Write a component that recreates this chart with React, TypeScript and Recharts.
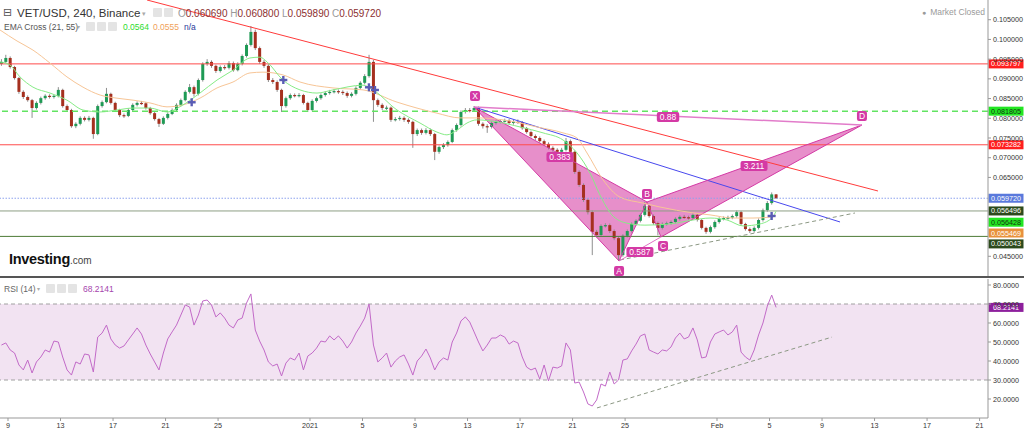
import React from 'react';
import {
  ComposedChart,
  Bar,
  Line,
  Area,
  Scatter,
  XAxis,
  YAxis,
  ReferenceLine,
  ReferenceArea,
} from 'recharts';

const FONT = '"Liberation Sans", Arial, sans-serif';

// 8h candles, day 0 = Dec 9 2020
const START_DAY = -0.5;
const STEP_DAYS = 1 / 3;

// [open, high, low, close]
const candles = [
  [0.0938, 0.095, 0.0933, 0.0943], [0.0943, 0.0961, 0.094, 0.0953], [0.0953, 0.0957, 0.0926, 0.093], [0.093, 0.0933, 0.0898, 0.0902],
  [0.0902, 0.0905, 0.0862, 0.0867], [0.0867, 0.0871, 0.0849, 0.0854], [0.0854, 0.0858, 0.0842, 0.0846], [0.0846, 0.0849, 0.0801, 0.0826],
  [0.0826, 0.0843, 0.0822, 0.0839], [0.0839, 0.0855, 0.0835, 0.0851], [0.0851, 0.0861, 0.0847, 0.0857], [0.0857, 0.0861, 0.085, 0.0854],
  [0.0854, 0.086, 0.085, 0.0857], [0.0857, 0.0879, 0.0853, 0.0872], [0.0872, 0.0875, 0.0827, 0.0831], [0.0831, 0.0835, 0.0816, 0.0821],
  [0.0821, 0.0824, 0.0776, 0.078], [0.078, 0.079, 0.0775, 0.0786], [0.0786, 0.0805, 0.0782, 0.0801], [0.0801, 0.0805, 0.0792, 0.0796],
  [0.0796, 0.0806, 0.0792, 0.0801], [0.0801, 0.0804, 0.0748, 0.076], [0.076, 0.0835, 0.0757, 0.0831], [0.0831, 0.0845, 0.0827, 0.0841],
  [0.0841, 0.0877, 0.0838, 0.0862], [0.0862, 0.0865, 0.0835, 0.0839], [0.0839, 0.0842, 0.0817, 0.0821], [0.0821, 0.0824, 0.0803, 0.0808],
  [0.0808, 0.0812, 0.0801, 0.0806], [0.0806, 0.0825, 0.0803, 0.0821], [0.0821, 0.0838, 0.0818, 0.0834], [0.0834, 0.0843, 0.083, 0.0839],
  [0.0839, 0.0844, 0.0834, 0.0838], [0.0838, 0.0841, 0.0822, 0.0826], [0.0826, 0.0829, 0.0809, 0.0813], [0.0813, 0.0816, 0.0794, 0.0798],
  [0.0798, 0.0801, 0.0778, 0.0786], [0.0786, 0.0805, 0.0783, 0.0801], [0.0801, 0.0815, 0.0797, 0.0811], [0.0811, 0.0825, 0.0808, 0.0821],
  [0.0821, 0.0838, 0.0818, 0.0834], [0.0834, 0.085, 0.083, 0.0846], [0.0846, 0.0871, 0.0843, 0.0867], [0.0867, 0.0887, 0.0863, 0.0879],
  [0.0879, 0.0883, 0.0855, 0.0862], [0.0862, 0.0901, 0.0858, 0.0897], [0.0897, 0.0942, 0.0893, 0.0938], [0.0938, 0.095, 0.0933, 0.0943],
  [0.0943, 0.0947, 0.0928, 0.0933], [0.0933, 0.0936, 0.0915, 0.092], [0.092, 0.0934, 0.0916, 0.093], [0.093, 0.0935, 0.0923, 0.0928],
  [0.0928, 0.0945, 0.0924, 0.094], [0.094, 0.0944, 0.0918, 0.0922], [0.0922, 0.0942, 0.0919, 0.0938], [0.0938, 0.0962, 0.0934, 0.0958],
  [0.0958, 0.099, 0.0954, 0.0986], [0.0986, 0.1034, 0.0982, 0.1019], [0.1019, 0.1025, 0.0973, 0.0978], [0.0978, 0.0982, 0.0938, 0.0943],
  [0.0943, 0.0948, 0.0928, 0.0933], [0.0933, 0.0937, 0.0892, 0.0897], [0.0897, 0.0902, 0.0887, 0.0892], [0.0892, 0.0896, 0.0867, 0.0872],
  [0.0872, 0.0875, 0.0816, 0.0831], [0.0831, 0.0855, 0.0827, 0.0851], [0.0851, 0.0863, 0.0847, 0.0859], [0.0859, 0.0863, 0.0853, 0.0857],
  [0.0857, 0.0864, 0.0853, 0.0859], [0.0859, 0.0862, 0.0835, 0.0839], [0.0839, 0.0842, 0.0816, 0.0821], [0.0821, 0.0848, 0.0818, 0.0844],
  [0.0844, 0.0855, 0.084, 0.0851], [0.0851, 0.0863, 0.0847, 0.0859], [0.0859, 0.0869, 0.0855, 0.0864], [0.0864, 0.0872, 0.086, 0.0867],
  [0.0867, 0.0874, 0.0863, 0.0869], [0.0869, 0.0873, 0.0862, 0.0867], [0.0867, 0.0871, 0.0859, 0.0864], [0.0864, 0.0868, 0.0852, 0.0857],
  [0.0857, 0.0866, 0.0853, 0.0862], [0.0862, 0.0881, 0.0858, 0.0877], [0.0877, 0.0894, 0.0873, 0.089], [0.089, 0.0912, 0.0886, 0.0907],
  [0.0907, 0.0961, 0.0903, 0.0943], [0.0943, 0.0948, 0.0791, 0.0846], [0.0846, 0.085, 0.0829, 0.0834], [0.0834, 0.0838, 0.0821, 0.0826],
  [0.0826, 0.0832, 0.0821, 0.0827], [0.0827, 0.083, 0.0791, 0.0796], [0.0796, 0.0803, 0.0792, 0.0798], [0.0798, 0.0806, 0.0794, 0.0801],
  [0.0801, 0.0805, 0.0791, 0.0796], [0.0796, 0.08, 0.0786, 0.0791], [0.0791, 0.0794, 0.0725, 0.076], [0.076, 0.0774, 0.0755, 0.077],
  [0.077, 0.0774, 0.0758, 0.0763], [0.0763, 0.0775, 0.0759, 0.077], [0.077, 0.0774, 0.0755, 0.076], [0.076, 0.0763, 0.0694, 0.0715],
  [0.0715, 0.0731, 0.071, 0.0727], [0.0727, 0.0737, 0.0722, 0.0732], [0.0732, 0.0744, 0.0728, 0.074], [0.074, 0.0774, 0.0737, 0.077],
  [0.077, 0.0787, 0.0766, 0.0783], [0.0783, 0.082, 0.0779, 0.0816], [0.0816, 0.0826, 0.0812, 0.0821], [0.0821, 0.0826, 0.0815, 0.082],
  [0.082, 0.0831, 0.0816, 0.0826], [0.0826, 0.083, 0.0781, 0.0786], [0.0786, 0.079, 0.0774, 0.078], [0.078, 0.0785, 0.0763, 0.0778],
  [0.0778, 0.0792, 0.0774, 0.0788], [0.0788, 0.0795, 0.0784, 0.0791], [0.0791, 0.0798, 0.0787, 0.0793], [0.0793, 0.0799, 0.0789, 0.0794],
  [0.0794, 0.0798, 0.0784, 0.0788], [0.0788, 0.0796, 0.0784, 0.0791], [0.0791, 0.0797, 0.0786, 0.079], [0.079, 0.0793, 0.0771, 0.0775],
  [0.0775, 0.0778, 0.0761, 0.0765], [0.0765, 0.0769, 0.0751, 0.0755], [0.0755, 0.0759, 0.0745, 0.075], [0.075, 0.0754, 0.0738, 0.0742],
  [0.0742, 0.0746, 0.073, 0.0735], [0.0735, 0.0739, 0.0721, 0.0725], [0.0725, 0.0729, 0.0715, 0.072], [0.072, 0.0724, 0.071, 0.0715],
  [0.0715, 0.0725, 0.0711, 0.072], [0.072, 0.075, 0.0716, 0.0742], [0.0742, 0.0746, 0.071, 0.0715], [0.0715, 0.0718, 0.0659, 0.0664],
  [0.0664, 0.0668, 0.0626, 0.0631], [0.0631, 0.0635, 0.0588, 0.0593], [0.0593, 0.0597, 0.0556, 0.0562], [0.0562, 0.0566, 0.0453, 0.0512],
  [0.0512, 0.0517, 0.0498, 0.0504], [0.0504, 0.0531, 0.05, 0.0527], [0.0527, 0.0534, 0.0523, 0.0529], [0.0529, 0.0533, 0.0509, 0.0514],
  [0.0514, 0.0518, 0.0491, 0.0496], [0.0496, 0.05, 0.0438, 0.0453], [0.0453, 0.0506, 0.0449, 0.0502], [0.0502, 0.0518, 0.0498, 0.0514],
  [0.0514, 0.0536, 0.051, 0.0532], [0.0532, 0.0544, 0.0528, 0.054], [0.054, 0.0559, 0.0536, 0.0555], [0.0555, 0.0588, 0.0551, 0.0578],
  [0.0578, 0.0582, 0.0548, 0.0552], [0.0552, 0.0556, 0.053, 0.0534], [0.0534, 0.0538, 0.0503, 0.0522], [0.0522, 0.0536, 0.0518, 0.0532],
  [0.0532, 0.0538, 0.0528, 0.0534], [0.0534, 0.0541, 0.053, 0.0537], [0.0537, 0.0549, 0.0533, 0.0545], [0.0545, 0.0554, 0.0541, 0.055],
  [0.055, 0.0555, 0.0545, 0.0549], [0.0549, 0.0553, 0.0543, 0.0547], [0.0547, 0.0559, 0.0543, 0.0555], [0.0555, 0.0558, 0.0538, 0.0542],
  [0.0542, 0.0545, 0.0518, 0.0522], [0.0522, 0.0525, 0.0507, 0.0512], [0.0512, 0.0528, 0.0508, 0.0524], [0.0524, 0.0541, 0.052, 0.0537],
  [0.0537, 0.0549, 0.0533, 0.0545], [0.0545, 0.0551, 0.0541, 0.0547], [0.0547, 0.0553, 0.0543, 0.0548], [0.0548, 0.0556, 0.0544, 0.0552],
  [0.0552, 0.0566, 0.0548, 0.0562], [0.0562, 0.0565, 0.0528, 0.0532], [0.0532, 0.0535, 0.0515, 0.0519], [0.0519, 0.0523, 0.0509, 0.0514],
  [0.0514, 0.0526, 0.051, 0.0522], [0.0522, 0.0546, 0.0518, 0.0542], [0.0542, 0.0571, 0.0538, 0.0567], [0.0567, 0.059, 0.0563, 0.0585],
  [0.0585, 0.0612, 0.0581, 0.0607], [0.0607, 0.0608, 0.0596, 0.0597],
];

// RSI(14), one value per candle
const rsi14 = [
  48.4, 49.5, 45.8, 44.2, 37.9, 35.3, 40.5, 33.7, 39.5, 42.1, 45.8, 44.7, 50.5, 50.0, 42.1, 35.3, 32.6, 39.5, 38.4, 43.7,
  43.2, 34.2, 52.6, 54.7, 58.9, 51.6, 48.4, 46.8, 47.9, 51.1, 54.2, 57.4, 54.2, 48.4, 43.7, 39.5, 35.3, 44.2, 51.6, 55.3,
  58.9, 64.2, 69.5, 68.4, 58.9, 64.2, 71.6, 72.1, 69.5, 63.2, 65.3, 62.6, 58.9, 57.4, 61.6, 62.6, 70.5, 75.3, 56.3, 50.5,
  45.8, 39.5, 37.4, 38.4, 32.1, 38.9, 41.6, 40.5, 44.2, 35.3, 42.6, 44.2, 46.8, 50.5, 50.0, 53.2, 51.1, 53.2, 50.5, 46.8,
  50.0, 54.7, 58.4, 62.6, 70.0, 48.4, 39.5, 41.6, 44.2, 36.8, 40.0, 42.1, 43.2, 38.4, 32.6, 40.0, 42.6, 46.3, 41.6, 35.3,
  39.5, 41.6, 40.5, 50.0, 54.7, 61.1, 63.2, 60.5, 55.3, 50.0, 45.3, 48.4, 52.1, 52.1, 53.7, 52.6, 48.9, 50.5, 49.5, 42.1,
  36.8, 35.3, 36.3, 30.5, 37.9, 29.5, 36.8, 36.3, 37.4, 49.5, 45.8, 28.4, 28.9, 23.7, 17.4, 16.3, 19.5, 27.9, 26.8, 34.2,
  27.9, 30.0, 40.5, 41.1, 45.3, 48.9, 53.2, 54.2, 45.8, 44.7, 43.7, 45.8, 45.3, 47.4, 52.1, 54.7, 51.6, 52.6, 57.4, 51.1,
  41.6, 42.1, 50.0, 54.2, 55.3, 56.3, 53.7, 55.3, 58.9, 44.7, 42.1, 40.5, 45.8, 53.7, 60.0, 68.9, 74.7, 68.2141,
];

// EMA Cross (21, 55): [day, value]
const ema21 = [
  [-0.61, 0.0943], [0.15, 0.0935], [0.91, 0.0905], [1.9, 0.0879], [3.2, 0.0864], [4.49, 0.0846], [5.71, 0.0821],
  [7.01, 0.0816], [8.3, 0.0821], [9.52, 0.0826], [10.81, 0.0826], [12.11, 0.0816], [13.33, 0.0834], [14.62, 0.0864],
  [15.92, 0.0897], [17.14, 0.0922], [18.43, 0.0953], [19.19, 0.0955], [19.73, 0.0943], [20.94, 0.0897], [22.24, 0.0872],
  [23.53, 0.0864], [24.75, 0.0872], [27.04, 0.0884], [27.8, 0.0872], [29.63, 0.0821], [31.38, 0.0788], [32.67, 0.0765],
  [33.43, 0.0758], [34.2, 0.077], [34.96, 0.0788], [35.72, 0.0796], [37.24, 0.0791], [39.0, 0.0778], [40.75, 0.0763],
  [42.27, 0.0745], [43.34, 0.0712], [44.33, 0.0661], [45.09, 0.0605], [46.0, 0.0555], [47.14, 0.0534], [48.51, 0.0529],
  [50.42, 0.0532], [52.17, 0.0542], [53.47, 0.0547], [54.76, 0.0542], [55.98, 0.0527], [57.27, 0.0532], [58.26, 0.055],
  [58.49, 0.0564],
];
const ema55 = [
  [-0.61, 0.1024], [0.69, 0.0996], [1.9, 0.0973], [3.2, 0.094], [4.49, 0.0905], [5.71, 0.0879], [7.01, 0.0859],
  [8.3, 0.0851], [9.52, 0.0846], [10.81, 0.0839], [12.11, 0.0829], [13.33, 0.0834], [14.62, 0.0851], [15.92, 0.0877],
  [17.14, 0.0892], [18.43, 0.0915], [19.42, 0.0917], [20.94, 0.091], [22.24, 0.0892], [24.75, 0.0877], [27.04, 0.0872],
  [29.63, 0.0841], [32.67, 0.0813], [34.42, 0.0801], [35.72, 0.0801], [37.7, 0.0796], [40.29, 0.0778], [42.27, 0.0763],
  [43.34, 0.075], [44.1, 0.0712], [45.32, 0.0644], [46.61, 0.06], [48.36, 0.0585], [49.66, 0.0575], [52.17, 0.056],
  [53.47, 0.0555], [55.22, 0.0547], [56.74, 0.0547], [58.26, 0.055], [58.49, 0.0555],
];

// harmonic pattern points [day, price]
const ptX = [35.49, 0.08287];
const ptA = [46.54, 0.04381];
const ptB = [48.67, 0.05877];
const ptC = [49.73, 0.0499];
const ptD = [65.04, 0.0783];

// tags: [day, price, text]
const letterTags = [
  [35.57, 0.08565, 'X'], [46.54, 0.04128, 'A'], [48.67, 0.0608, 'B'], [49.89, 0.04761, 'C'], [65.04, 0.08058, 'D'],
];
const ratioTags = [
  [42.04, 0.07018, '0.383'], [48.13, 0.04609, '0.587'], [56.82, 0.0679, '3.211'], [50.27, 0.08033, '0.88'],
];

const redTrend = [[10.59, 0.11], [66.26, 0.06156]];
const blueTrend = [[35.49, 0.08287], [63.37, 0.0537]];
const grayTrend = [[46.61, 0.04406], [64.51, 0.05598]];
const rsiTrend = [[44.86, 15.3], [62.76, 52.6]];
const emaCrosses = [[13.99, 0.08406], [20.97, 0.08971], [27.49, 0.08786], [27.95, 0.08718], [58.16, 0.05522]];

const redLevels = [0.093797, 0.073282];
const greenLevel = 0.081805;
const lastPrice = 0.05972;
const supportLevels = [0.056496, 0.050043];
const emaLast = [0.056428, 0.055469];
const rsiLast = 68.2141;

const dayTicks = [0, 4, 8, 12, 16, 23, 27, 31, 35, 39, 43, 47, 54, 58, 62, 66, 70, 74];
const dayLabels = ['9', '13', '17', '21', '25', '2021', '5', '9', '13', '17', '21', '25', 'Feb', '5', '9', '13', '17', '21'];
const priceTicks = [0.045, 0.065, 0.07, 0.075, 0.08, 0.085, 0.09, 0.095, 0.1, 0.105];
const rsiTicks = [20, 30, 40, 50, 60, 70, 80];

const X_DOMAIN = [-0.609, 74.64];

const rows = candles.map((k, i) => ({
  t: START_DAY + i * STEP_DAYS,
  o: k[0], h: k[1], l: k[2], c: k[3],
  range: [k[2], k[1]],
  rsi: rsi14[i],
}));

const pts = (arr: any[]) => arr.map((a) => ({ t: a[0], p: a[1] }));
const tagPts = (arr: any[]) => arr.map((a) => ({ t: a[0], p: a[1], text: a[2] }));

const Candle = (props: any) => {
  const { x, y, width, height, payload } = props;
  if (x == null || payload == null) return null;
  const top = Math.min(y, y + height);
  const full = Math.abs(height);
  const span = payload.h - payload.l || 1e-9;
  const k = full / span;
  const yo = top + (payload.h - payload.o) * k;
  const yc = top + (payload.h - payload.c) * k;
  const up = payload.c >= payload.o;
  const cx = x + width / 2;
  const bw = 3;
  return (
    <g>
      <line x1={cx} x2={cx} y1={top} y2={top + full} stroke="#8e8e8e" strokeWidth={1} />
      <rect
        x={cx - bw / 2}
        y={Math.min(yo, yc)}
        width={bw}
        height={Math.max(1.2, Math.abs(yo - yc))}
        fill={up ? '#1f9a55' : '#a5301f'}
      />
    </g>
  );
};

const PatternTag = (props: any) => {
  const { cx, cy, payload } = props;
  if (cx == null) return null;
  const w = payload.text.length === 1 ? 10 : payload.text.length * 4.6 + 4;
  return (
    <g>
      <rect x={cx - w / 2} y={cy - 5} width={w} height={10} rx={2} fill="#d43aa5" />
      <text x={cx} y={cy + 3} textAnchor="middle" fontSize={8.5} fill="#fff" fontFamily={FONT}>
        {payload.text}
      </text>
    </g>
  );
};

const Cross = (props: any) => {
  const { cx, cy } = props;
  if (cx == null) return null;
  return (
    <g stroke="#5a5cb4" strokeWidth={2.4}>
      <line x1={cx - 4} x2={cx + 4} y1={cy} y2={cy} />
      <line x1={cx} x2={cx} y1={cy - 4} y2={cy + 4} />
    </g>
  );
};

const priceTag = (text: string, bg: string, fg: string, dy = 0) => (props: any) => {
  const vb = props.viewBox || {};
  const x = (vb.x || 0) + (vb.width || 0) + 0.5;
  const y = (vb.y || 0) - 4.5 + dy;
  return (
    <g>
      <rect x={x} y={y} width={35} height={9} fill={bg} />
      <text x={x + 17.5} y={y + 7} textAnchor="middle" fontSize={7.2} fill={fg} fontFamily={FONT}>
        {text}
      </text>
    </g>
  );
};

const iconBox = (left: number, top: number) => (
  <div
    style={{
      position: 'absolute', left, top, width: 9, height: 9, background: '#e4e4e4', borderRadius: 1,
    }}
  />
);

const textStyle = (left: number, top: number, size: number, color: string, extra: any = {}) => ({
  position: 'absolute' as const, left, top, fontSize: size, color, lineHeight: 1, whiteSpace: 'nowrap' as const, ...extra,
});

export default function App() {
  const tickStyle = { fontSize: 7.2, fill: '#333', fontFamily: FONT };
  return (
    <div
      style={{
        position: 'absolute', left: 0, top: 0, width: 1024, height: 432, background: '#fff',
        overflow: 'hidden', fontFamily: FONT,
      }}
    >
      <div style={{ position: 'absolute', left: 0, top: 0 }}>
        <ComposedChart width={1024} height={276} data={rows} margin={{ top: 0, right: 0, bottom: 0, left: 0 }}>
          <XAxis type="number" dataKey="t" domain={X_DOMAIN} allowDataOverflow hide />
          <YAxis
            orientation="right"
            width={36}
            domain={[0.04, 0.11]}
            allowDataOverflow
            ticks={priceTicks}
            tickFormatter={(v) => v.toFixed(6)}
            tick={tickStyle}
            tickSize={3}
            axisLine={{ stroke: '#999' }}
            tickLine={{ stroke: '#999' }}
          />
          {redLevels.map((v) => (
            <ReferenceLine key={v} y={v} stroke="#ff4b4b" strokeWidth={1} label={priceTag(v.toFixed(6), '#ff1e1e', '#fff')} />
          ))}
          <ReferenceLine y={greenLevel} stroke="#62e462" strokeWidth={1.5} strokeDasharray="6 4" label={priceTag(greenLevel.toFixed(6), '#22e622', '#123312')} />
          <ReferenceLine y={lastPrice} stroke="#8ea2ee" strokeWidth={1} strokeDasharray="1.5 1.5" label={priceTag(lastPrice.toFixed(6), '#5a79dc', '#fff')} />
          <ReferenceLine y={supportLevels[0]} stroke="#8d9f84" strokeWidth={1} label={priceTag(supportLevels[0].toFixed(6), '#2c4a1c', '#fff')} />
          <ReferenceLine y={supportLevels[1]} stroke="#4d7a36" strokeWidth={1} label={priceTag(supportLevels[1].toFixed(6), '#2c4a1c', '#fff', 7.5)} />
          <ReferenceLine y={emaLast[0]} stroke="none" label={priceTag(emaLast[0].toFixed(6), '#22e622', '#123312', 11)} />
          <ReferenceLine y={emaLast[1]} stroke="none" label={priceTag(emaLast[1].toFixed(6), '#e8913c', '#fff', 18)} />

          <Line data={pts(redTrend)} dataKey="p" stroke="#ff3b3b" strokeWidth={1} dot={false} isAnimationActive={false} />
          <Line data={pts(blueTrend)} dataKey="p" stroke="#4848ee" strokeWidth={1} dot={false} isAnimationActive={false} />
          <Line data={pts(grayTrend)} dataKey="p" stroke="#8c9884" strokeWidth={1} strokeDasharray="4 3" dot={false} isAnimationActive={false} />

          <Area data={pts([ptX, ptA, ptB, ptX])} dataKey="p" type="linear" stroke="none" fill="#d84aaa" fillOpacity={0.62} isAnimationActive={false} />
          <Area data={pts([ptB, ptC, ptD, ptB])} dataKey="p" type="linear" stroke="none" fill="#d84aaa" fillOpacity={0.62} isAnimationActive={false} />
          <Line data={pts([ptX, ptA, ptB, ptX])} dataKey="p" stroke="#d43aa5" strokeWidth={1} dot={false} isAnimationActive={false} />
          <Line data={pts([ptB, ptC, ptD, ptB])} dataKey="p" stroke="#d43aa5" strokeWidth={1} dot={false} isAnimationActive={false} />
          <Line data={pts([ptA, ptC])} dataKey="p" stroke="#e070c4" strokeWidth={1} dot={false} isAnimationActive={false} />
          <Line data={pts([ptX, ptD])} dataKey="p" stroke="#e27cca" strokeWidth={1.5} dot={false} isAnimationActive={false} />

          <Scatter data={tagPts(letterTags)} dataKey="p" shape={<PatternTag />} isAnimationActive={false} />
          <Scatter data={tagPts(ratioTags)} dataKey="p" shape={<PatternTag />} isAnimationActive={false} />

          <Line data={pts(ema55)} dataKey="p" type="monotone" stroke="#f7c596" strokeWidth={1} dot={false} isAnimationActive={false} />
          <Line data={pts(ema21)} dataKey="p" type="monotone" stroke="#86ec86" strokeWidth={1} dot={false} isAnimationActive={false} />

          <Bar dataKey="range" barSize={3} shape={<Candle />} isAnimationActive={false} />

          <Scatter data={pts(emaCrosses)} dataKey="p" shape={<Cross />} isAnimationActive={false} />
        </ComposedChart>
      </div>

      <div style={{ position: 'absolute', left: 0, top: 276, width: 1024, height: 2, background: '#555' }} />

      <div style={{ position: 'absolute', left: 0, top: 278 }}>
        <ComposedChart width={1024} height={154} data={rows} margin={{ top: 1, right: 0, bottom: 0, left: 0 }}>
          <XAxis
            type="number"
            dataKey="t"
            domain={X_DOMAIN}
            allowDataOverflow
            ticks={dayTicks}
            tickFormatter={(v) => dayLabels[dayTicks.indexOf(v)] ?? ''}
            tick={tickStyle}
            tickSize={3}
            height={14}
            interval={0}
            axisLine={{ stroke: '#999' }}
            tickLine={{ stroke: '#999' }}
          />
          <YAxis
            orientation="right"
            width={36}
            domain={[10, 83.16]}
            allowDataOverflow
            ticks={rsiTicks}
            tickFormatter={(v) => v.toFixed(4)}
            tick={tickStyle}
            tickSize={3}
            axisLine={{ stroke: '#999' }}
            tickLine={{ stroke: '#999' }}
          />
          <ReferenceArea y1={30} y2={70} fill="#f2e3f2" fillOpacity={1} stroke="none" />
          <ReferenceLine y={70} stroke="#a0a0a0" strokeDasharray="4 3" />
          <ReferenceLine y={30} stroke="#a0a0a0" strokeDasharray="4 3" />
          <Line data={rsiTrend.map((a) => ({ t: a[0], rsi: a[1] }))} dataKey="rsi" stroke="#8c9884" strokeWidth={1} strokeDasharray="4 3" dot={false} isAnimationActive={false} />
          <Line dataKey="rsi" stroke="#c26ac8" strokeWidth={1} dot={false} isAnimationActive={false} />
          <ReferenceLine y={rsiLast} stroke="none" label={priceTag(rsiLast.toFixed(4), '#8d1f9c', '#fff')} />
        </ComposedChart>
      </div>

      {/* header */}
      <div style={textStyle(3, 7, 11, '#555', { fontFamily: '"DejaVu Sans", sans-serif' })}>⊟</div>
      <div style={textStyle(17, 8, 11.5, '#333')}>VET/USD, 240, Binance</div>
      <div style={textStyle(142, 10, 7, '#aaa')}>▾</div>
      {iconBox(153, 8)}
      {iconBox(164, 8)}
      <div style={textStyle(178, 8.5, 10, '#8c2f2f')}>
        <span style={{ color: '#999' }}>O</span>0.060690 <span style={{ color: '#999' }}>H</span>0.060800{' '}
        <span style={{ color: '#999' }}>L</span>0.059890 <span style={{ color: '#999' }}>C</span>0.059720
      </div>
      <div style={textStyle(4, 22.5, 8.5, '#555')}>EMA Cross (21, 55)</div>
      <div style={textStyle(77, 23.5, 6, '#aaa')}>▾</div>
      {iconBox(86, 22)}
      {iconBox(97, 22)}
      {iconBox(108, 22)}
      <div style={textStyle(123, 22.5, 8.5, '#2edc2e')}>0.0564</div>
      <div style={textStyle(153, 22.5, 8.5, '#f0a25a')}>0.0555</div>
      <div style={textStyle(184, 22.5, 8.5, '#2a3a9a')}>n/a</div>
      <div style={textStyle(922, 8, 8.5, '#9a9a9a')}>
        <span style={{ fontSize: 7, marginRight: 4 }}>●</span>Market Closed
      </div>

      {/* RSI header */}
      <div style={textStyle(4, 284.5, 8.5, '#666')}>RSI (14)</div>
      <div style={textStyle(37, 285.5, 6, '#aaa')}>▾</div>
      {iconBox(46, 284)}
      {iconBox(57, 284)}
      {iconBox(68, 284)}
      <div style={textStyle(83, 284.5, 8.5, '#a545ad')}>68.2141</div>

      {/* logo */}
      <div style={textStyle(9, 252, 14.5, '#111', { fontWeight: 700, letterSpacing: -0.3 })}>
        Investing<span style={{ fontSize: 10, fontWeight: 400, color: '#444', letterSpacing: 0 }}>.com</span>
      </div>
    </div>
  );
}
